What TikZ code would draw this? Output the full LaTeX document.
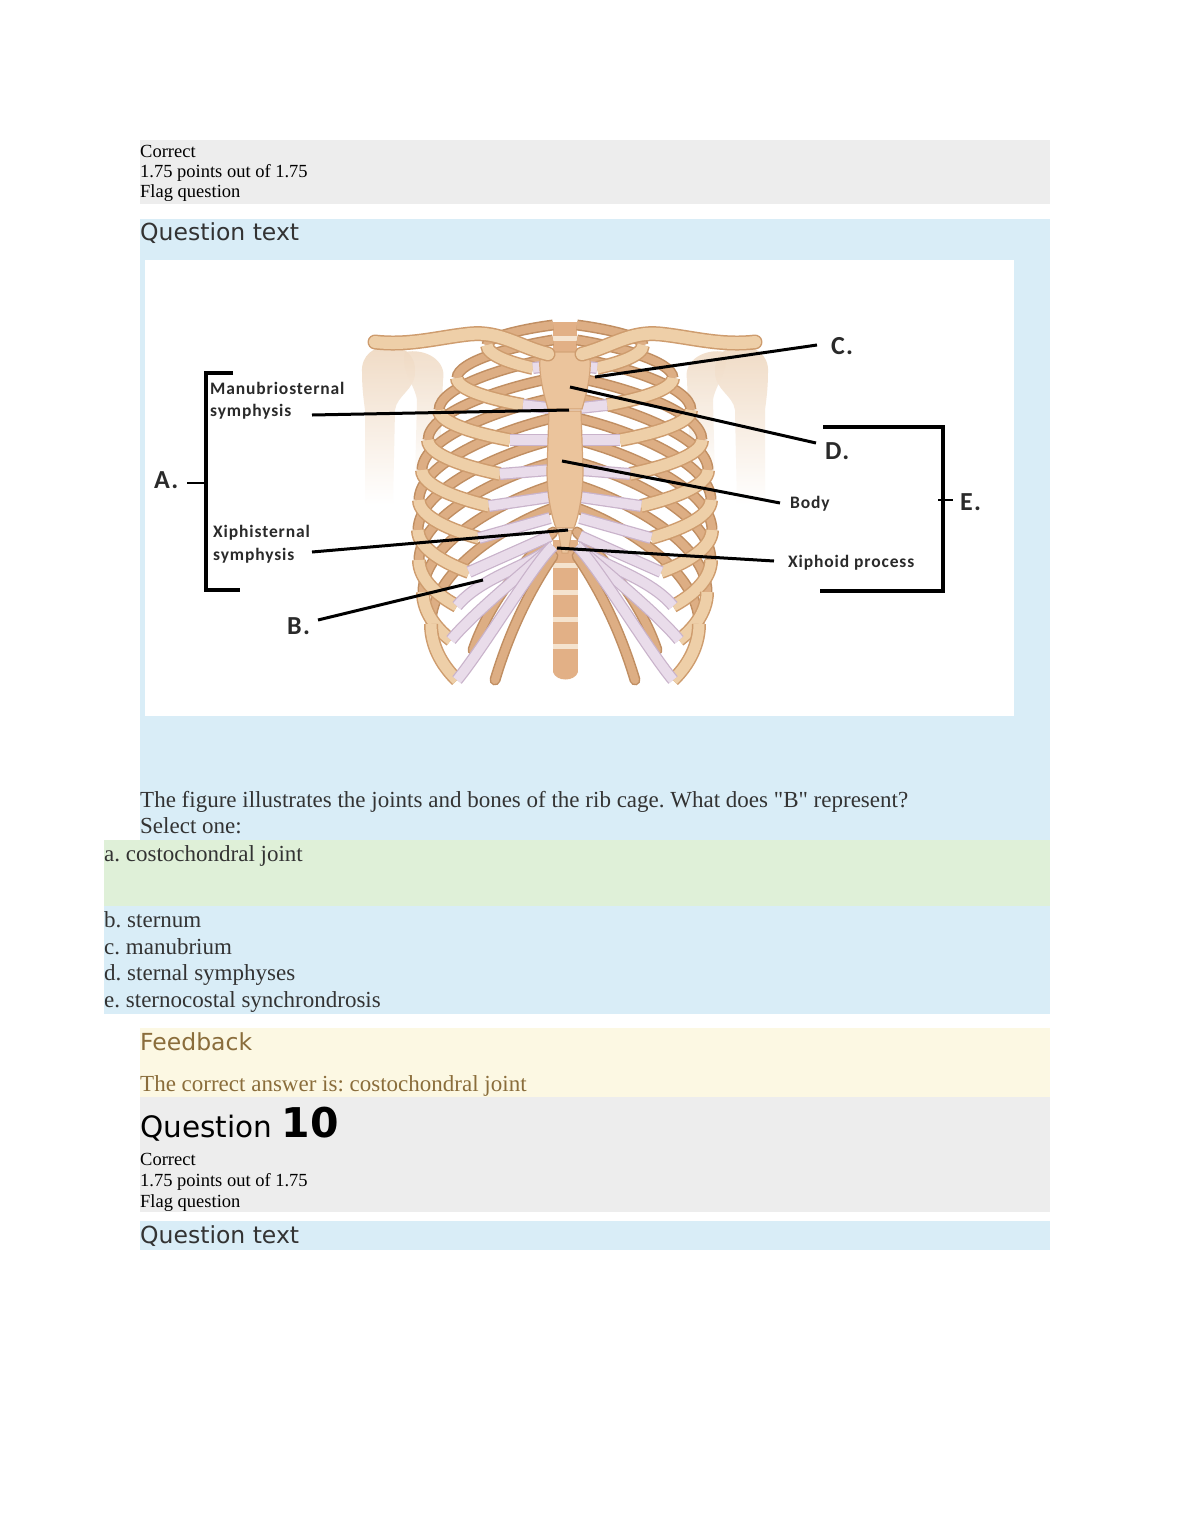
\documentclass[tikz,border=0pt]{standalone}
\usepackage{fontspec}
\setmainfont{Liberation Serif}
\newfontfamily\uisans{DejaVu Sans}
\newfontfamily\lblfont[LetterSpace=5]{Carlito}
\definecolor{graybg}{HTML}{EDEDED}
\definecolor{bluebg}{HTML}{D9EDF7}
\definecolor{greenbg}{HTML}{DFF0D8}
\definecolor{yellowbg}{HTML}{FCF8E3}
\definecolor{fbtext}{HTML}{8A6D3B}
\definecolor{dark}{HTML}{333333}
\definecolor{boneF}{HTML}{EECFA8}
\definecolor{boneE}{HTML}{CE9C6E}
\definecolor{backF}{HTML}{DDAE84}
\definecolor{backE}{HTML}{C08E62}
\definecolor{cartF}{HTML}{E9DCEA}
\definecolor{cartE}{HTML}{C9B3CB}
\definecolor{stF}{HTML}{EBC49C}
\definecolor{stE}{HTML}{D4A478}
\definecolor{spF}{HTML}{E2B086}
\definecolor{disc}{HTML}{F5E3CE}
\definecolor{shoulder}{HTML}{EFD9C2}
\definecolor{lbltext}{HTML}{2A2A2A}
\begin{document}
\frenchspacing
\begin{tikzpicture}[x=1pt,y=-1pt,
  meta/.style={anchor=base west, inner sep=0pt, font=\fontsize{18.5}{20}\selectfont, text=black},
  head/.style={anchor=base west, inner sep=0pt, font=\uisans\fontsize{23.5}{25}\selectfont, text=dark},
  body/.style={anchor=base west, inner sep=0pt, font=\fontsize{23}{25}\selectfont, text=dark},
  lbl/.style={anchor=base west, inner sep=0pt, font=\lblfont\bfseries\fontsize{17.5}{19}\selectfont, text=lbltext},
  biglbl/.style={anchor=base west, inner sep=0pt, font=\lblfont\bfseries\fontsize{26}{28}\selectfont, text=lbltext},
  pointer/.style={line width=3pt, black},
  bracket/.style={line width=3.5pt, black},
  postE/.style={line width=11pt, backE},
  postF/.style={line width=8pt, backF},
  antE/.style={line width=14pt, boneE},
  antF/.style={line width=11pt, boneF},
  cartEs/.style={line width=12pt, cartE},
  cartFs/.style={line width=9.5pt, cartF}
]
\useasboundingbox (0,0) rectangle (1190,1540);
\fill[white] (0,0) rectangle (1190,1540);

% ---------- page boxes ----------
\fill[graybg] (140,140) rectangle (1050,204);
\fill[bluebg] (140,219) rectangle (1050,840);
\fill[greenbg] (104,840) rectangle (1050,906);
\fill[bluebg] (104,906) rectangle (1050,1014);
\fill[yellowbg] (140,1028) rectangle (1050,1097);
\fill[graybg] (140,1097) rectangle (1050,1212);
\fill[bluebg] (140,1221) rectangle (1050,1250);
\fill[white] (145,260) rectangle (1014,716);

% ---------- page texts ----------
\node[meta] (m1a) at (140,157) {Correct};
\node[meta] (m1b) at (140,177) {1.75 points out of 1.75};
\node[meta] (m1c) at (140,197) {Flag question};
\node[head] (qt1) at (140,240) {Question text};
\node[body] (qtext) at (140,807) {The figure illustrates the joints and bones of the rib cage. What does \textquotedbl B\textquotedbl{} represent?};
\node[body] (sel) at (140,833) {Select one:};
\node[body] (oa) at (104,861) {a. costochondral joint};
\node[body] (ob) at (104,927) {b. sternum};
\node[body] (oc) at (104,954) {c. manubrium};
\node[body] (od) at (104,980) {d. sternal symphyses};
\node[body] (oe) at (104,1007) {e. sternocostal synchrondrosis};
\node[head, text=fbtext] (fb) at (140,1050) {Feedback};
\node[body, text=fbtext] (fbt) at (140,1091) {The correct answer is: costochondral joint};
\node[anchor=base west, inner sep=0pt, font=\uisans\fontsize{29.5}{31}\selectfont, text=black] (q10) at (140,1137) {Question {\bfseries\fontsize{41}{41}\selectfont 10}};
\node[meta] (m2a) at (140,1165) {Correct};
\node[meta] (m2b) at (140,1186) {1.75 points out of 1.75};
\node[meta] (m2c) at (140,1207) {Flag question};
\node[head] (qt2) at (140,1243) {Question text};

% ---------- shoulders ----------
\foreach \s in {1,-1}{
\begin{scope}[shift={(565,0)}, xscale=\s]
  \shade[top color=shoulder, bottom color=white]
    (-203,372) .. controls (-205,338) and (-148,336) .. (-150,372)
    .. controls (-150,390) and (-168,395) .. (-170,410) -- (-172,505) -- (-200,505) -- (-200,410)
    .. controls (-202,395) and (-203,385) .. cycle;
  \shade[top color=shoulder, bottom color=white, opacity=0.85]
    (-160,352) .. controls (-140,348) and (-118,360) .. (-122,380)
    -- (-126,480) -- (-150,480) -- (-148,400) .. controls (-150,385) and (-165,370) .. cycle;
\end{scope}
}

% ---------- spine ----------
\fill[spF] (553,322) rectangle (577,354);
\fill[disc] (553,336) rectangle (577,341);
\fill[spF] (553,540) rectangle (578,672);
\foreach \yy in {563,590,617,644}{
  \fill[disc] (553,\yy) rectangle (578,\yy+5);
}
\fill[spF] (553,672) .. controls (556,682) and (575,682) .. (578,672) -- cycle;

% ---------- posterior ribs ----------
\foreach \s in {1,-1}{
\begin{scope}[shift={(565,0)}, xscale=\s]
  \foreach \yo/\W/\yL in {325/78/345, 340/108/378, 358/126/410, 378/137/440, 398/143/470, 418/146/500, 440/147/530, 462/146/560, 485/142/592, 508/134/624}{
    \pgfmathsetmacro\pa{\yo+0.15*(\yL-\yo)}
    \pgfmathsetmacro\pb{\yo+0.55*(\yL-\yo)}
    \draw[postE] (-12,\yo) .. controls ({-0.45*\W},\pa) and ({-\W},\pb) .. ({-\W},\yL);
    \draw[postF] (-12,\yo) .. controls ({-0.45*\W},\pa) and ({-\W},\pb) .. ({-\W},\yL);
  }
  \draw[postE, line cap=round] (-12,532) .. controls (-40,560) and (-75,600) .. (-92,650);
  \draw[postF, line cap=round] (-12,532) .. controls (-40,560) and (-75,600) .. (-92,650);
  \draw[postE, line cap=round] (-12,556) .. controls (-35,590) and (-55,630) .. (-70,680);
  \draw[postF, line cap=round] (-12,556) .. controls (-35,590) and (-55,630) .. (-70,680);
\end{scope}
}

% ---------- anterior ribs ----------
\foreach \s in {1,-1}{
\begin{scope}[shift={(565,0)}, xscale=\s]
  \foreach \W/\yL/\cx/\yC in {78/345/32/368, 108/378/42/405, 126/410/55/440, 137/440/65/474, 143/470/76/506, 146/500/86/538, 147/530/96/572, 146/560/108/606, 142/592/114/640, 134/624/108/680}{
    \pgfmathsetmacro\qa{\yL+0.45*(\yC-\yL)}
    \pgfmathsetmacro\qx{-\cx-0.45*(\W-\cx)}
    \pgfmathsetmacro\qb{\yC-0.2*(\yC-\yL)}
    \draw[antE] ({-\W},\yL) .. controls ({-\W},\qa) and (\qx,\qb) .. ({-\cx},\yC);
    \draw[antF] ({-\W},\yL) .. controls ({-\W},\qa) and (\qx,\qb) .. ({-\cx},\yC);
  }
\end{scope}
}

% ---------- costal cartilages ----------
\foreach \s in {1,-1}{
\begin{scope}[shift={(565,0)}, xscale=\s]
  \foreach \cx/\yC/\sy in {32/368/366, 42/405/408, 55/440/440, 65/474/470, 76/506/497, 86/538/518, 96/572/536}{
    \pgfmathsetmacro\mx{-0.5*\cx-8}
    \pgfmathsetmacro\my{0.5*(\yC+\sy)}
    \draw[cartEs] ({-\cx},\yC) .. controls (\mx,\my) .. (-15,\sy);
    \draw[cartFs] ({-\cx},\yC) .. controls (\mx,\my) .. (-15,\sy);
  }
  \foreach \cx/\yC in {108/606, 114/640, 108/680}{
    \draw[cartEs] ({-\cx},\yC) .. controls ({-\cx+25},{\yC-30}) and (-32,565) .. (-12,546);
    \draw[cartFs] ({-\cx},\yC) .. controls ({-\cx+25},{\yC-30}) and (-32,565) .. (-12,546);
  }
\end{scope}
}

% ---------- sternum ----------
\begin{scope}[shift={(565,0)}]
  \filldraw[fill=stF, draw=stE, line width=1.2pt]
    (-24,352) -- (24,352) .. controls (28,370) and (21,395) .. (17,409) -- (-17,409)
    .. controls (-21,395) and (-28,370) .. cycle;
  \filldraw[fill=stF, draw=stE, line width=1.2pt]
    (-16,411) -- (16,411) -- (18,470) .. controls (18,500) and (12,520) .. (9,528)
    -- (-9,528) .. controls (-12,520) and (-18,500) .. (-18,470) -- cycle;
  \filldraw[fill=stF, draw=stE, line width=1pt]
    (-7,530) -- (7,530) -- (3,553) -- (-3,553) -- cycle;
\end{scope}

% ---------- clavicles ----------
\foreach \s in {1,-1}{
\begin{scope}[shift={(565,0)}, xscale=\s]
  \draw[line width=15pt, boneE, line cap=round] (-17,354) .. controls (-45,347) and (-65,331) .. (-95,334) .. controls (-125,337) and (-155,346) .. (-190,342);
  \draw[line width=12pt, boneF, line cap=round] (-17,354) .. controls (-45,347) and (-65,331) .. (-95,334) .. controls (-125,337) and (-155,346) .. (-190,342);
\end{scope}
}

% ---------- labels ----------
\node[lbl] (tManu) at (210,394) {Manubriosternal};
\node[lbl] (tSym1) at (210,416) {symphysis};
\node[lbl] (tXiph) at (213,537) {Xiphisternal};
\node[lbl] (tSym2) at (213,560) {symphysis};
\node[biglbl] (tA) at (154,488) {A.};
\node[biglbl] (tB) at (287,634) {B.};
\node[biglbl] (tC) at (831,354) {C.};
\node[biglbl] (tD) at (825,459) {D.};
\node[biglbl] (tE) at (960,510) {E.};
\node[lbl] (tBody) at (790,508) {Body};
\node[lbl] (tXp) at (788,567) {Xiphoid process};

\coordinate (ms1) at (312,415); \coordinate (ms2) at (569,410);
\coordinate (xs1) at (312,552); \coordinate (xs2) at (568,530);
\coordinate (bb1) at (318,620); \coordinate (bb2) at (483,580);
\coordinate (cc1) at (595,377); \coordinate (cc2) at (817,345);
\coordinate (dd1) at (570,387); \coordinate (dd2) at (816,443);
\coordinate (bo1) at (562,461); \coordinate (bo2) at (780,503);
\coordinate (xp1) at (557,548); \coordinate (xp2) at (774,561);
\draw[pointer] (ms1) -- (ms2);
\draw[pointer] (xs1) -- (xs2);
\draw[pointer] (bb1) -- (bb2);
\draw[pointer] (cc1) -- (cc2);
\draw[pointer] (dd1) -- (dd2);
\draw[pointer] (bo1) -- (bo2);
\draw[pointer] (xp1) -- (xp2);

\coordinate (aTop) at (233,373); \coordinate (aBot) at (240,590);
\coordinate (aT1) at (187,483); \coordinate (aT2) at (206,483);
\draw[bracket] (aTop) -| (206,590) -- (aBot);
\draw[line width=1.5pt] (aT1) -- (aT2);
\coordinate (eTop) at (823,427); \coordinate (eBot) at (820,591);
\coordinate (eT1) at (938,500); \coordinate (eT2) at (953,500);
\draw[bracket] (eTop) -| (943,591) -- (eBot);
\draw[line width=1.5pt] (eT1) -- (eT2);
\end{tikzpicture}
\end{document}
